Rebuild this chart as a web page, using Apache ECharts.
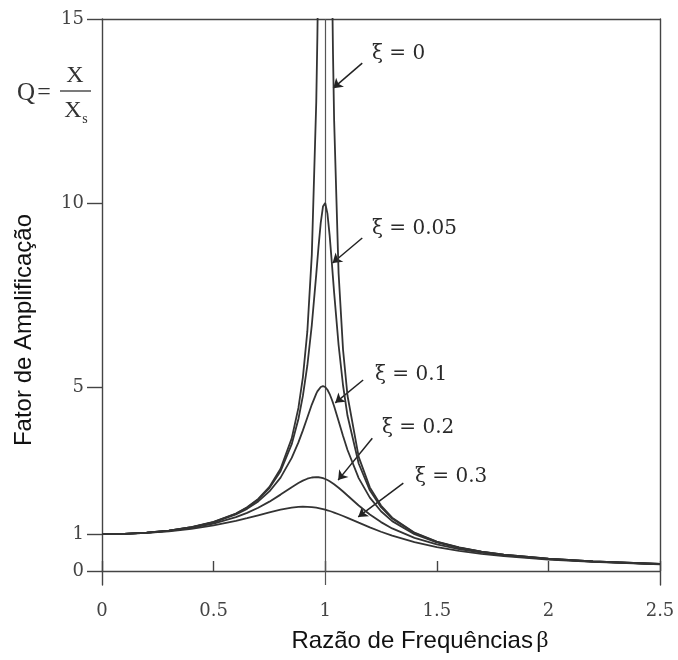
<!DOCTYPE html>
<html>
<head>
<meta charset="utf-8">
<script src="https://cdn.jsdelivr.net/npm/echarts@6/dist/echarts.min.js"></script>
<style>
html,body{margin:0;padding:0;background:#fff;}
#c{width:678px;height:660px;}
</style>
</head>
<body>
<div id="c"></div>
<script>
// Frequency ratio β (x values)
const beta = [0, 0.1, 0.2, 0.3, 0.4, 0.5, 0.6, 0.65, 0.7, 0.75, 0.8, 0.85, 0.88, 0.9, 0.92, 0.94, 0.96, 0.965, 0.97, 0.98, 0.99, 1.0, 1.01, 1.02, 1.03, 1.035, 1.04, 1.06, 1.08, 1.1, 1.15, 1.2, 1.25, 1.3, 1.4, 1.5, 1.6, 1.7, 1.8, 2.0, 2.2, 2.5];
// Amplification factor Q for each damping ratio ξ
const q0   = [1, 1.010, 1.042, 1.099, 1.190, 1.333, 1.563, 1.732, 1.961, 2.286, 2.778, 3.604, 4.433, 5.263, 6.510, 8.591, 12.76, 14.54, 16.92, null, null, null, null, null, 16.42, 14.04, 12.25, 8.091, 6.010, 4.762, 3.101, 2.273, 1.778, 1.449, 1.042, 0.800, 0.641, 0.529, 0.446, 0.333, 0.260, 0.190];
const q005 = [1, 1.010, 1.041, 1.098, 1.189, 1.330, 1.556, 1.721, 1.943, 2.253, 2.712, 3.446, 4.130, 4.757, 5.585, 6.684, 8.068, 8.439, 8.804, 9.461, 9.903, 10.00, 9.711, 9.115, 8.357, 7.959, 7.565, 6.141, 5.041, 4.218, 2.921, 2.193, 1.735, 1.424, 1.031, 0.794, 0.638, 0.527, 0.445, 0.333, 0.260, 0.190];
const q01  = [1, 1.010, 1.041, 1.097, 1.185, 1.322, 1.536, 1.689, 1.891, 2.162, 2.538, 3.073, 3.495, 3.821, 4.172, 4.523, 4.822, 4.881, 4.931, 5.001, 5.025, 5.000, 4.926, 4.809, 4.655, 4.568, 4.476, 4.075, 3.668, 3.288, 2.525, 1.995, 1.625, 1.356, 1.000, 0.778, 0.628, 0.521, 0.441, 0.330, 0.259, 0.190];
const q02  = [1, 1.009, 1.038, 1.090, 1.170, 1.288, 1.463, 1.579, 1.719, 1.885, 2.076, 2.279, 2.392, 2.457, 2.508, 2.541, 2.552, 2.551, 2.548, 2.538, 2.522, 2.500, 2.472, 2.439, 2.401, 2.381, 2.359, 2.264, 2.160, 2.051, 1.780, 1.536, 1.329, 1.157, 0.900, 0.721, 0.593, 0.498, 0.425, 0.322, 0.254, 0.187];
const q03  = [1, 1.008, 1.034, 1.078, 1.145, 1.238, 1.362, 1.435, 1.514, 1.593, 1.667, 1.722, 1.742, 1.747, 1.745, 1.736, 1.720, 1.715, 1.709, 1.697, 1.683, 1.667, 1.649, 1.631, 1.610, 1.600, 1.589, 1.543, 1.495, 1.444, 1.313, 1.185, 1.067, 0.960, 0.784, 0.649, 0.546, 0.466, 0.402, 0.310, 0.246, 0.183];

const seriesNames = ['ξ = 0', 'ξ = 0.05', 'ξ = 0.1', 'ξ = 0.2', 'ξ = 0.3'];
const seriesValues = [q0, q005, q01, q02, q03];
const yTickValues = [0, 1, 5, 10, 15];
// Annotation arrows (data coordinates: tail -> head)
const arrowTail = [[1.166, 13.80], [1.166, 9.05], [1.170, 5.19], [1.211, 3.61], [1.350, 2.39]];
const arrowHead = [[1.036, 13.12], [1.033, 8.37], [1.045, 4.57], [1.058, 2.47], [1.148, 1.47]];

const lineColor = '#333';
const axisColor = '#444';
const tickFont = 'DejaVu Serif';

const chart = echarts.init(document.getElementById('c'), null, {renderer: 'canvas'});

const series = seriesValues.map((vals, k) => ({
  name: seriesNames[k],
  type: 'line',
  xAxisIndex: 0,
  yAxisIndex: 0,
  data: beta.map((b, i) => [b, vals[i]]),
  showSymbol: false,
  symbol: 'none',
  connectNulls: false,
  clip: true,
  silent: true,
  lineStyle: {color: lineColor, width: 1.8},
  z: 5
}));

// Vertical line at β = 1
series[0].markLine = {
  silent: true,
  symbol: ['none', 'none'],
  label: {show: false},
  lineStyle: {color: '#555', width: 1.2, type: 'solid'},
  data: [{xAxis: 1}],
  animation: false
};
// Annotation arrows
series[1].markLine = {
  silent: true,
  symbol: ['none', 'arrow'],
  symbolSize: 9,
  label: {show: false},
  lineStyle: {color: '#222', width: 1.5, type: 'solid'},
  data: arrowTail.map((t, i) => [{coord: t}, {coord: arrowHead[i]}]),
  animation: false
};

const labelPos = [[372, 54], [372, 229], [375, 375], [382, 428], [415, 477]];

const graphic = [
  {type: 'text', x: 24, y: 330, rotation: Math.PI / 2,
   style: {text: 'Fator de Amplificação', font: '24px "Liberation Sans"', fill: '#111', align: 'center', verticalAlign: 'middle'}},
  {type: 'text', x: 420, y: 641,
   style: {text: '{a|Razão de Frequências} {b|β}', align: 'center', verticalAlign: 'middle',
     rich: {a: {font: '24px "Liberation Sans"', fill: '#111'}, b: {font: '24px "Liberation Serif"', fill: '#111'}}}},
  // Q = X / Xs
  {type: 'text', x: 26, y: 93, style: {text: 'Q', font: '25px "Liberation Serif"', fill: '#333', align: 'center', verticalAlign: 'middle'}},
  {type: 'text', x: 44, y: 93, style: {text: '=', font: '24px "Liberation Serif"', fill: '#333', align: 'center', verticalAlign: 'middle'}},
  {type: 'text', x: 75, y: 76, style: {text: 'X', font: '24px "Liberation Serif"', fill: '#333', align: 'center', verticalAlign: 'middle'}},
  {type: 'line', shape: {x1: 60, y1: 91, x2: 91, y2: 91}, style: {stroke: '#333', lineWidth: 1.3}},
  {type: 'text', x: 73, y: 111, style: {text: 'X', font: '24px "Liberation Serif"', fill: '#333', align: 'center', verticalAlign: 'middle'}},
  {type: 'text', x: 85, y: 119, style: {text: 's', font: '14px "Liberation Serif"', fill: '#333', align: 'center', verticalAlign: 'middle'}}
].concat(seriesNames.map((n, i) => ({
  type: 'text', x: labelPos[i][0], y: labelPos[i][1],
  style: {text: n, font: '20px "' + tickFont + '"', fill: '#2a2a2a', align: 'left', verticalAlign: 'middle'}
})));

chart.setOption({
  animation: false,
  backgroundColor: '#fff',
  grid: {left: 102, right: 18, top: 19, bottom: 75, containLabel: false},
  xAxis: [
    {type: 'value', min: 0, max: 2.5, interval: 0.5, position: 'bottom',
     axisLine: {show: true, onZero: true, lineStyle: {color: axisColor, width: 1.4}},
     axisTick: {show: true, inside: true, length: 10, lineStyle: {color: axisColor, width: 1.4}},
     axisLabel: {show: true, margin: 17, color: '#444', fontFamily: tickFont, fontSize: 18, showMinLabel: true, showMaxLabel: true},
     splitLine: {show: false}},
    {type: 'value', min: 0, max: 2.5, position: 'top',
     axisLine: {show: true, onZero: false, lineStyle: {color: axisColor, width: 1.4}},
     axisTick: {show: false}, axisLabel: {show: false}, splitLine: {show: false}}
  ],
  yAxis: [
    {type: 'value', min: -0.38, max: 15, position: 'left',
     axisLine: {show: true, onZero: true, lineStyle: {color: axisColor, width: 1.4}},
     axisTick: {show: true, inside: false, length: 15, customValues: yTickValues, lineStyle: {color: axisColor, width: 1.4}},
     axisLabel: {show: true, margin: 18, customValues: yTickValues, color: '#444', fontFamily: tickFont, fontSize: 18},
     splitLine: {show: false}},
    {type: 'value', min: 0, max: 1, position: 'right',
     axisLine: {show: true, onZero: false, lineStyle: {color: axisColor, width: 1.4}},
     axisTick: {show: false}, axisLabel: {show: false}, splitLine: {show: false}}
  ],
  series: series,
  graphic: graphic
});
</script>
</body>
</html>
